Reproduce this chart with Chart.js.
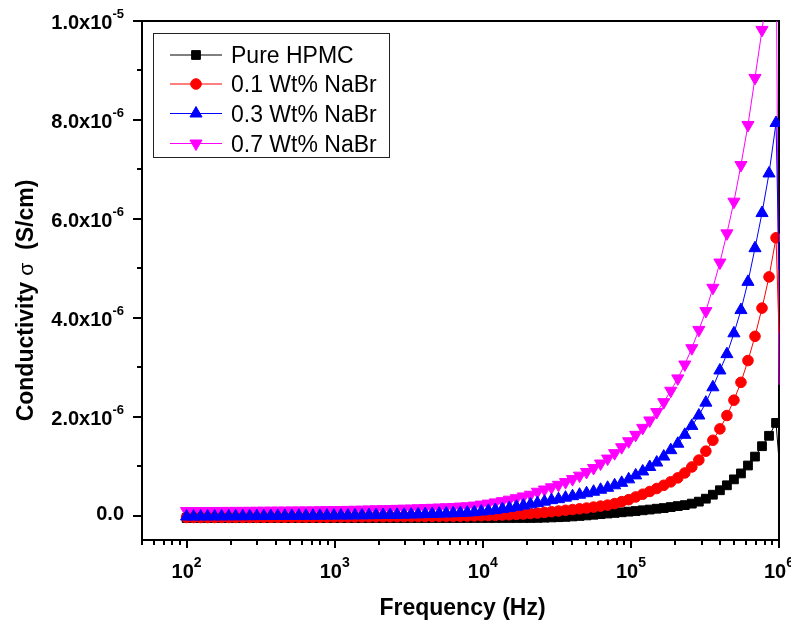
<!DOCTYPE html>
<html>
<head>
<meta charset="utf-8">
<title>Conductivity vs frequency</title>
<script src="https://cdn.jsdelivr.net/npm/chart.js"></script>
<style>
  html, body { margin: 0; padding: 0; background: #fff; }
  #wrap { width: 791px; height: 624px; }
</style>
</head>
<body>
<div id="wrap"><canvas id="myChart" width="791" height="624"></canvas></div>
<script>
// frequency sweep (Hz), last point is the 1 MHz reading
const freqHz = [
  100, 111.5, 124.4, 138.7, 154.7, 172.5, 192.4, 214.6, 239.3, 266.9,
  297.7, 332.0, 370.3, 413.0, 460.6, 513.7, 572.9, 638.9, 712.6, 794.7,
  886.3, 988.5, 1102, 1229, 1371, 1529, 1706, 1902, 2122, 2366,
  2639, 2943, 3282, 3661, 4083, 4553, 5078, 5664, 6317, 7045,
  7857, 8763, 9772, 10900, 12155, 13556, 15119, 16862, 18806, 20974,
  23388, 26085, 29092, 32445, 36186, 40357, 45010, 50199, 55986, 62440,
  69638, 77666, 86620, 96592, 107726, 120146, 133997, 149444, 166673, 185886,
  207316, 231216, 257871, 287600, 320755, 357733, 398974, 444969, 496266, 553478,
  617285, 688447, 767814, 856330, 955053, 1000000
];

// conductivity in units of 1e-6 S/cm
const pureHPMC = [
  -0.040, -0.040, -0.040, -0.040, -0.040, -0.040, -0.040, -0.040, -0.040, -0.040,
  -0.040, -0.040, -0.040, -0.040, -0.040, -0.040, -0.040, -0.040, -0.040, -0.040,
  -0.040, -0.040, -0.040, -0.040, -0.040, -0.040, -0.040, -0.040, -0.040, -0.040,
  -0.040, -0.040, -0.040, -0.040, -0.040, -0.040, -0.040, -0.040, -0.040, -0.040,
  -0.040, -0.040, -0.040, -0.040, -0.040, -0.040, -0.040, -0.040, -0.040, -0.040,
  -0.038, -0.034, -0.029, -0.024, -0.018, -0.009, 0.001, 0.012, 0.025, 0.037,
  0.050, 0.062, 0.075, 0.088, 0.100, 0.115, 0.130, 0.147, 0.160, 0.180,
  0.20, 0.22, 0.25, 0.29, 0.35, 0.43, 0.52, 0.62, 0.74, 0.86,
  1.02, 1.20, 1.41, 1.62, 1.88, 1.13
];
const nabr01 = [
  -0.030, -0.030, -0.030, -0.030, -0.030, -0.029, -0.029, -0.029, -0.028, -0.028,
  -0.028, -0.027, -0.027, -0.026, -0.026, -0.025, -0.025, -0.024, -0.024, -0.023,
  -0.022, -0.021, -0.020, -0.019, -0.018, -0.017, -0.016, -0.015, -0.014, -0.013,
  -0.012, -0.011, -0.010, -0.009, -0.008, -0.007, -0.006, -0.005, -0.004, -0.002,
  0.000, 0.003, 0.006, 0.010, 0.014, 0.019, 0.025, 0.032, 0.040, 0.050,
  0.060, 0.073, 0.087, 0.100, 0.115, 0.130, 0.145, 0.160, 0.180, 0.200,
  0.22, 0.25, 0.29, 0.33, 0.385, 0.44, 0.495, 0.555, 0.62, 0.69,
  0.77, 0.87, 0.99, 1.13, 1.31, 1.53, 1.76, 2.03, 2.34, 2.70,
  3.14, 3.63, 4.20, 4.83, 5.62, 3.70
];
const nabr03 = [
  -0.010, -0.010, -0.009, -0.008, -0.008, -0.007, -0.006, -0.005, -0.004, -0.003,
  -0.002, -0.001, 0.000, 0.001, 0.002, 0.003, 0.004, 0.005, 0.006, 0.007,
  0.008, 0.009, 0.010, 0.011, 0.012, 0.014, 0.016, 0.018, 0.020, 0.022,
  0.024, 0.027, 0.030, 0.034, 0.038, 0.042, 0.046, 0.051, 0.056, 0.062,
  0.068, 0.078, 0.090, 0.105, 0.120, 0.140, 0.160, 0.185, 0.210, 0.235,
  0.26, 0.29, 0.32, 0.34, 0.37, 0.40, 0.43, 0.46, 0.49, 0.53,
  0.57, 0.62, 0.67, 0.74, 0.82, 0.90, 0.99, 1.08, 1.20, 1.33,
  1.46, 1.64, 1.82, 2.03, 2.29, 2.60, 2.94, 3.27, 3.69, 4.16,
  4.73, 5.41, 6.12, 6.92, 7.94, 4.97
];
const nabr07 = [
  0.100, 0.100, 0.100, 0.101, 0.101, 0.102, 0.102, 0.103, 0.103, 0.104,
  0.105, 0.106, 0.107, 0.108, 0.109, 0.110, 0.111, 0.112, 0.113, 0.115,
  0.117, 0.119, 0.121, 0.123, 0.125, 0.128, 0.131, 0.134, 0.137, 0.140,
  0.144, 0.147, 0.150, 0.155, 0.160, 0.165, 0.170, 0.175, 0.180, 0.190,
  0.195, 0.210, 0.230, 0.250, 0.275, 0.300, 0.330, 0.360, 0.395, 0.430,
  0.49, 0.535, 0.58, 0.63, 0.685, 0.745, 0.815, 0.89, 0.97, 1.06,
  1.16, 1.27, 1.39, 1.51, 1.64, 1.78, 1.93, 2.10, 2.30, 2.53,
  2.78, 3.06, 3.39, 3.76, 4.14, 4.61, 5.12, 5.71, 6.35, 7.09,
  7.90, 8.85, 9.82, 10.85, 11.95, 2.65
];

const seriesNames = ['Pure HPMC', '0.1 Wt% NaBr', '0.3 Wt% NaBr', '0.7 Wt% NaBr'];
const seriesValues = [pureHPMC, nabr01, nabr03, nabr07];

const yTickValues = [0, 2, 4, 6, 8, 10];   // major ticks, x1e-6
const xTickDecades = [2, 3, 4, 5, 6];      // major ticks, 10^n Hz

const seriesStyles = [
  { color: '#000000', pointStyle: 'rect', radius: 6.2, rotation: 0, order: 3 },
  { color: '#ff0000', pointStyle: 'circle', radius: 5.3, rotation: 0, order: 2 },
  { color: '#0000ff', pointStyle: 'triangle', radius: 7, rotation: 0, order: 1 },
  { color: '#ff00ff', pointStyle: 'triangle', radius: 7, rotation: 180, order: 4 }
];

const FONT = '"Liberation Sans", Arial, Helvetica, sans-serif';

const datasets = seriesNames.map((name, k) => {
  const st = seriesStyles[k];
  return {
    label: name,
    data: freqHz.map((f, i) => ({ x: f, y: seriesValues[k][i] * 1e-6 })),
    showLine: true,
    borderColor: st.color,
    backgroundColor: st.color,
    borderWidth: 1,
    tension: 0,
    pointStyle: st.pointStyle,
    pointRotation: st.rotation,
    pointRadius: c => (c.dataIndex === freqHz.length - 1 ? 0 : st.radius),
    pointBorderWidth: 1,
    pointBorderColor: st.color,
    pointBackgroundColor: st.color,
    order: st.order,
    clip: { left: 0, top: 0, right: 1, bottom: 0 }
  };
});

function line(ctx, x1, y1, x2, y2) {
  ctx.beginPath();
  ctx.moveTo(x1, y1);
  ctx.lineTo(x2, y2);
  ctx.stroke();
}

// axis frame goes under the data
const frame = {
  id: 'frame',
  beforeDatasetsDraw(chart) {
    const { ctx, chartArea: a } = chart;
    ctx.save();
    ctx.strokeStyle = '#000';
    ctx.lineWidth = 2;
    ctx.strokeRect(a.left, a.top, a.right - a.left, a.bottom - a.top);
    ctx.restore();
  }
};

// Origin-style ticks, superscript labels, titles and boxed legend
const decor = {
  id: 'decor',
  afterDraw(chart) {
    const { ctx, chartArea: a } = chart;
    const xs = chart.scales.x, ys = chart.scales.y;
    ctx.save();
    ctx.strokeStyle = '#000';
    ctx.fillStyle = '#000';
    ctx.lineWidth = 2;

    // y ticks: majors every 2e-6, minors between
    for (let v = 0; v <= 10; v++) {
      const py = Math.round(ys.getPixelForValue(v * 1e-6));
      const len = yTickValues.includes(v) ? 9 : 5;
      line(ctx, a.left - len, py, a.left, py);
    }
    // x ticks: decades plus 2..9 minors
    for (let n = 1; n <= 6; n++) {
      for (let k = 1; k <= 9; k++) {
        const f = k * Math.pow(10, n);
        if (f < xs.min || f > xs.max * 1.0001) continue;
        const px = Math.round(xs.getPixelForValue(f));
        line(ctx, px, a.bottom, px, a.bottom + (k === 1 ? 8 : 5));
      }
    }

    // y tick labels
    ctx.textBaseline = 'alphabetic';
    yTickValues.forEach(v => {
      const py = ys.getPixelForValue(v * 1e-6);
      const right = 124;
      if (v === 0) {
        ctx.font = 'bold 20px ' + FONT;
        ctx.textAlign = 'right';
        ctx.fillText('0.0', right, py + 4);
        return;
      }
      const val = v * 1e-6;
      const exp = Math.floor(Math.log10(val) + 1e-9);
      const base = (val / Math.pow(10, exp)).toFixed(1) + 'x10';
      const sup = String(exp);
      ctx.font = 'bold 13px ' + FONT;
      const ws = ctx.measureText(sup).width;
      ctx.textAlign = 'right';
      ctx.fillText(sup, right, py - 3);
      ctx.font = 'bold 20px ' + FONT;
      ctx.fillText(base, right - ws, py + 8);
    });

    // x tick labels
    xTickDecades.forEach(n => {
      const px = xs.getPixelForValue(Math.pow(10, n));
      ctx.font = 'bold 20px ' + FONT;
      const wb = ctx.measureText('10').width;
      ctx.font = 'bold 14px ' + FONT;
      const ws = ctx.measureText(String(n)).width;
      const left = px - (wb + ws) / 2;
      ctx.textAlign = 'left';
      ctx.font = 'bold 20px ' + FONT;
      ctx.fillText('10', left, a.bottom + 38);
      ctx.font = 'bold 14px ' + FONT;
      ctx.fillText(String(n), left + wb, a.bottom + 27);
    });

    // axis titles
    ctx.font = 'bold 23px ' + FONT;
    ctx.textAlign = 'center';
    ctx.fillText('Frequency (Hz)', (a.left + a.right) / 2 + 2, a.bottom + 75);

    const parts = [
      { t: 'Conductivity ', f: 'bold 23px ' + FONT },
      { t: '\u03C3', f: '21px ' + FONT },
      { t: '  (S/cm)', f: 'bold 23px ' + FONT }
    ];
    let total = 0;
    parts.forEach(p => { ctx.font = p.f; p.w = ctx.measureText(p.t).width; total += p.w; });
    ctx.translate(33, (a.top + a.bottom) / 2 + 20);
    ctx.rotate(-Math.PI / 2);
    ctx.textAlign = 'left';
    let cx = -total / 2;
    parts.forEach(p => { ctx.font = p.f; ctx.fillText(p.t, cx, 0); cx += p.w; });
    ctx.setTransform(1, 0, 0, 1, 0, 0);

    // legend box
    const lx = 153.5, ly = 33.5, lw = 236, lh = 124;
    ctx.lineWidth = 1;
    ctx.strokeStyle = '#222';
    ctx.strokeRect(lx, ly, lw, lh);
    const rowY = [55, 84, 113.5, 143.5];
    chart.data.datasets.forEach((ds, k) => {
      const st = seriesStyles[k];
      const y = rowY[k];
      ctx.strokeStyle = st.color;
      ctx.fillStyle = st.color;
      ctx.lineWidth = 1;
      line(ctx, 170, y, 222, y);
      Chart.helpers.drawPoint(ctx, {
        pointStyle: st.pointStyle, rotation: st.rotation, radius: st.radius, borderWidth: 1
      }, 196, y);
      ctx.fillStyle = '#000';
      ctx.font = '23px ' + FONT;
      ctx.textAlign = 'left';
      ctx.fillText(ds.label, 231, y + 8);
    });
    ctx.restore();
  }
};

new Chart(document.getElementById('myChart').getContext('2d'), {
  type: 'scatter',
  data: { datasets },
  options: {
    responsive: false,
    animation: false,
    layout: { padding: { left: 142, top: 21, right: 12, bottom: 84 } },
    scales: {
      x: { type: 'logarithmic', min: 50, max: 1e6, display: false },
      y: { type: 'linear', min: -0.485e-6, max: 1e-5, display: false }
    },
    plugins: {
      legend: { display: false },
      tooltip: { enabled: false }
    }
  },
  plugins: [frame, decor]
});
</script>
</body>
</html>
